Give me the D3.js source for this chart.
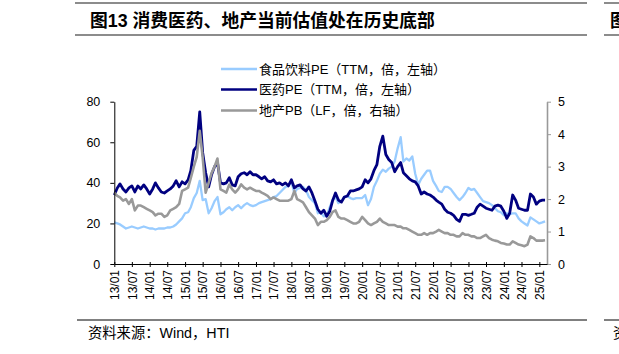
<!DOCTYPE html>
<html>
<head>
<meta charset="utf-8">
<script src="https://cdn.jsdelivr.net/npm/d3@7"></script>
<style>
  body { margin: 0; background: #fff; }
  svg { display: block; }
  text { font-family: "Liberation Sans", Arial, "Noto Sans CJK SC", sans-serif; }
</style>
</head>
<body>
<div id="wrapper"></div>
<script>
// monthly values, first value = 2013/01
const firstMonth = "2013-01"

// 食品饮料PE (TTM, left axis)
const foodPE = [
  20.5, 20, 19.5, 18.5, 17.5, 18, 18.5, 18, 17.5, 18, 18.5, 18,
  17.5, 17.5, 17, 17.5, 17.5, 17.5, 18, 18, 18.5, 19.5, 21, 22.5,
  25, 25.5, 28, 32.5, 35, 41, 31.5, 32, 25, 27.5, 31, 33,
  24.5, 25.5, 27, 28, 26.5, 28, 29, 27.5, 29, 30, 29, 28.5,
  29, 30, 30.5, 31, 31.5, 32, 33, 33.5, 35, 36.5, 38, 38.5,
  40.5, 35, 37, 37.5, 38, 36.5, 33, 31.5, 30, 25, 25.5, 23.5,
  24, 28, 31.5, 33, 30, 31, 33, 33.5, 32.5, 32, 32.5, 32.5,
  32.5, 34, 29, 32, 38, 41, 44.5, 46.5, 45.5, 47, 48, 50.5,
  57, 62.5, 50.5, 52, 51, 53, 44.5, 39, 42, 44, 46, 46,
  41, 38.5, 36, 35.5, 38, 38, 37, 35, 33, 31.5, 33, 35,
  37.5, 36.5, 37, 35, 33, 31, 30.5, 30, 29, 27.5, 26, 25.5,
  24, 25, 24.5, 25, 25, 22.5, 21, 20, 19, 23, 22, 21,
  20, 20.5, 21
]

// 医药PE (TTM, left axis)
const pharmaPE = [
  34, 37.5, 39.5, 37, 35.5, 37.5, 38.5, 35.5, 38.5, 37, 39, 37,
  34.5, 37, 40, 37.5, 35.5, 35, 36, 37, 38.5, 41, 38, 40.5,
  39.5, 41.5, 46, 56, 58, 75, 55, 45, 38, 44, 48, 50,
  40, 39.5, 40, 42.5, 39, 38.5, 43, 44.5, 45, 44, 45.5, 44,
  44, 43, 42, 43, 41, 40.5, 41.5, 39.5, 40, 39, 40, 38.5,
  41.5, 37.5, 38.5, 39, 37, 36, 38, 35, 31, 27, 25, 26.5,
  23.5, 26, 31, 35, 31.5, 30.5, 33, 33.5, 36, 36, 36.5, 37,
  38, 41.5, 40, 42, 46, 49, 58, 63, 54, 51.5, 50, 45.5,
  48, 50, 45, 43.5, 42, 41, 40.5, 38.5, 34.5, 35.5, 34.5, 34,
  33, 31.5, 30.5, 29.5, 27, 25.5, 25, 24, 22, 21, 24.5, 24.5,
  24, 24.5, 25, 28, 29.5, 28.5, 27.5, 27, 26.5, 28.5, 29, 28.5,
  26, 22.5, 25, 34, 31.5, 27.5, 27, 26.5, 26.5, 34.5, 33, 29.5,
  31, 31.5, 31.5
]

// 地产PB (LF, right axis)
const propertyPB = [
  2.2, 2.1, 2.05, 1.95, 2.0, 1.85, 2.0, 1.65, 1.8, 1.8, 1.75, 1.7,
  1.65, 1.6, 1.5, 1.55, 1.55, 1.45, 1.5, 1.65, 1.7, 1.75, 1.85, 2.25,
  2.3, 2.35, 2.65, 3.0, 3.3, 4.1, 3.3, 2.2, 2.5, 2.8, 3.0, 3.25,
  2.3, 2.25, 2.2, 2.45, 2.3, 2.2, 2.3, 2.45, 2.35, 2.3, 2.35, 2.3,
  2.25, 2.25, 2.2, 2.15, 2.1, 2.0, 2.05, 2.0, 1.95, 1.95, 1.95, 1.95,
  2.0, 2.25, 2.0, 1.95, 1.9, 1.75, 1.6, 1.5, 1.4, 1.2, 1.3, 1.3,
  1.35, 1.45, 1.6, 1.65, 1.45, 1.4, 1.4, 1.35, 1.3, 1.25, 1.25, 1.3,
  1.45, 1.35, 1.25, 1.2, 1.25, 1.3, 1.4, 1.3, 1.25, 1.2, 1.2, 1.2,
  1.15, 1.15, 1.1, 1.1, 1.05, 1.0, 0.95, 0.9, 0.9, 0.95, 0.9, 0.95,
  0.95, 1.0, 1.05, 1.0, 0.95, 0.95, 0.9, 0.9, 0.85, 0.85, 0.95, 0.9,
  0.9, 0.85, 0.85, 0.8, 0.8, 0.85, 0.9, 0.8, 0.75, 0.72, 0.7, 0.65,
  0.63, 0.6, 0.6, 0.7, 0.65, 0.6, 0.58, 0.55, 0.6, 0.85, 0.8, 0.72,
  0.72, 0.72, 0.73
]

const leftTicks = [0, 20, 40, 60, 80]
const rightTicks = [0, 1, 2, 3, 4, 5]

const legendItems = [
  { label: "食品饮料PE（TTM，倍，左轴）", color: "#99ccff" },
  { label: "医药PE（TTM，倍，左轴）", color: "#000080" },
  { label: "地产PB（LF，倍，右轴）", color: "#999999" },
]

const titleText = "图13 消费医药、地产当前估值处在历史底部"
const sourceText = "资料来源：Wind，HTI"

// dimensions
const width = 619
const height = 354
const plot = { left: 114.3, right: 547, top: 101.7, bottom: 264 }

const svg = d3.select("#wrapper").append("svg")
    .attr("width", width)
    .attr("height", height)

// scales
const parseMonth = d3.timeParse("%Y-%m")
const start = parseMonth(firstMonth)
const monthAt = i => d3.timeMonth.offset(start, i)

const x = d3.scaleTime()
    .domain([new Date(2013, 0, 1), new Date(2025, 2, 21)])
    .range([plot.left, plot.right])
const yLeft = d3.scaleLinear().domain([0, 80]).range([plot.bottom, plot.top])
const yRight = d3.scaleLinear().domain([0, 5]).range([plot.bottom, plot.top])

// title block
const rule = (g, x1, x2, y, color, w) => g.append("line")
    .attr("x1", x1).attr("x2", x2).attr("y1", y).attr("y2", y)
    .attr("stroke", color).attr("stroke-width", w)

rule(svg, 75, 587, 3, "#8c8c8c", 2)
rule(svg, 75, 587, 35, "#8c8c8c", 2)
rule(svg, 604, 619, 3, "#8c8c8c", 2)
rule(svg, 604, 619, 35, "#8c8c8c", 2)

svg.append("text")
    .attr("x", 90).attr("y", 26.5)
    .attr("font-size", 17.8).attr("font-weight", "bold")
    .text(titleText)
svg.append("text")
    .attr("x", 610).attr("y", 26.5)
    .attr("font-size", 17.8).attr("font-weight", "bold")
    .text("图")

// lines
const lineLeft = data => d3.line()
    .x((d, i) => x(monthAt(i)))
    .y(d => yLeft(d))(data)
const lineRight = data => d3.line()
    .x((d, i) => x(monthAt(i)))
    .y(d => yRight(d))(data)

const lines = svg.append("g")
    .attr("fill", "none")
    .attr("stroke-linejoin", "round")
lines.append("path").attr("d", lineLeft(foodPE))
    .attr("stroke", legendItems[0].color).attr("stroke-width", 2.3)
lines.append("path").attr("d", lineLeft(pharmaPE))
    .attr("stroke", legendItems[1].color).attr("stroke-width", 2.8)
lines.append("path").attr("d", lineRight(propertyPB))
    .attr("stroke", legendItems[2].color).attr("stroke-width", 2.6)

// axes
const leftAxis = svg.append("g")
    .attr("transform", `translate(${plot.left},0)`)
    .call(d3.axisLeft(yLeft).tickValues(leftTicks).tickSize(4).tickSizeOuter(0).tickPadding(10))
leftAxis.select(".domain").attr("stroke", "#000")
leftAxis.selectAll("text").attr("font-size", 12.5).attr("fill", "#000")

const rightAxis = svg.append("g")
    .attr("transform", `translate(${plot.right},0)`)
    .call(d3.axisRight(yRight).tickValues(rightTicks).tickFormat(d3.format("d"))
      .tickSize(4).tickSizeOuter(0).tickPadding(7))
rightAxis.select(".domain").attr("stroke", "#999999").attr("stroke-width", 1.6)
rightAxis.selectAll("line").attr("stroke", "#999999")
rightAxis.selectAll("text").attr("font-size", 12.5).attr("fill", "#000")

const xTicks = d3.timeMonth.range(new Date(2013, 0, 1), new Date(2025, 0, 2), 6)
const xAxis = svg.append("g")
    .attr("transform", `translate(0,${plot.bottom})`)
    .call(d3.axisBottom(x).tickValues(xTicks).tickFormat(d3.timeFormat("%y/%m")).tickSizeOuter(0))
xAxis.select(".domain").attr("stroke", "#000")
xAxis.selectAll(".tick line").attr("y1", -2).attr("y2", 3)
xAxis.selectAll(".tick text")
    .attr("font-size", 12).attr("fill", "#000")
    .attr("transform", "rotate(-90)")
    .attr("x", -6).attr("y", 0).attr("dy", "0.35em")
    .style("text-anchor", "end")

// legend
const legend = svg.append("g")
legendItems.forEach((item, i) => {
  const y = [69, 89.5, 110.5][i]
  legend.append("line")
      .attr("x1", 221).attr("x2", 257).attr("y1", y).attr("y2", y)
      .attr("stroke", item.color).attr("stroke-width", 2.6)
  legend.append("text")
      .attr("x", 259).attr("y", y).attr("dy", "0.36em")
      .attr("font-size", 13)
      .text(item.label)
})

// source
rule(svg, 77, 587, 320, "#000", 1)
rule(svg, 604, 619, 320, "#000", 1)
svg.append("text")
    .attr("x", 88).attr("y", 338)
    .attr("font-size", 14.3)
    .text(sourceText)
svg.append("text")
    .attr("x", 613).attr("y", 338)
    .attr("font-size", 14.3)
    .text("资")
</script>
</body>
</html>
